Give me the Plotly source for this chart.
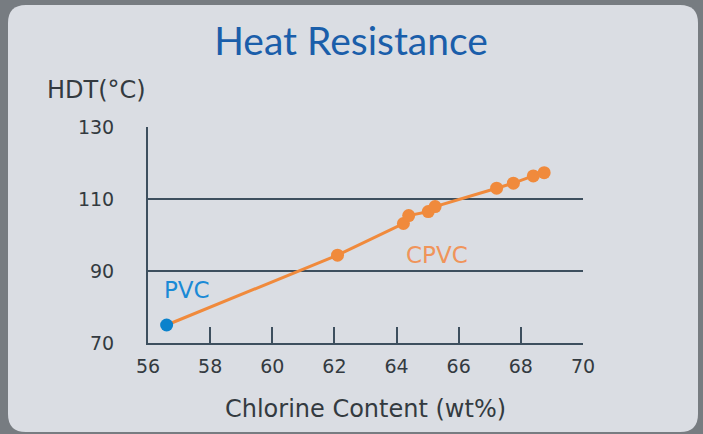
import plotly.graph_objects as go

# ---- data ----
pvc_x = [56.6]
pvc_y = [75.0]
cpvc_x = [62.1, 64.22, 64.39, 65.02, 65.24, 67.22, 67.76, 68.4, 68.75]
cpvc_y = [94.4, 103.2, 105.4, 106.5, 107.9, 113.0, 114.4, 116.4, 117.3]
x_ticks = [56, 58, 60, 62, 64, 66, 68, 70]
y_ticks = [70, 90, 110, 130]
grid_vals = [90, 110]

W, H = 703, 434
L, R, T, B = 148, 120, 127, 91

def px2paper(px, py):
    return (px - L) / (W - L - R), (H - B - py) / (H - T - B)

# rounded panel path
x0, y0, x1, y1, r = 8, 5, 698, 432, 18
def P(px, py):
    a, b = px2paper(px, py)
    return f"{a:.5f},{b:.5f}"
path = (f"M {P(x0+r,y0)} L {P(x1-r,y0)} Q {P(x1,y0)} {P(x1,y0+r)} "
        f"L {P(x1,y1-r)} Q {P(x1,y1)} {P(x1-r,y1)} L {P(x0+r,y1)} "
        f"Q {P(x0,y1)} {P(x0,y1-r)} L {P(x0,y0+r)} Q {P(x0,y0)} {P(x0+r,y0)} Z")

orange = "#f08a3c"
blue = "#0b82cc"
axis_col = "#3d4f5e"
text_col = "#333a40"

fig = go.Figure()
fig.add_trace(go.Scatter(x=pvc_x + cpvc_x, y=pvc_y + cpvc_y, mode="lines",
                         line=dict(color=orange, width=3), hoverinfo="skip", showlegend=False))
fig.add_trace(go.Scatter(x=cpvc_x, y=cpvc_y, mode="markers",
                         marker=dict(color=orange, size=13), showlegend=False))
fig.add_trace(go.Scatter(x=pvc_x, y=pvc_y, mode="markers",
                         marker=dict(color=blue, size=13), showlegend=False))

fig.add_shape(type="path", path=path, xref="paper", yref="paper",
              fillcolor="#dadde3", line=dict(width=0), layer="below")

fig.add_annotation(x=57.25, y=84.7, text="PVC", showarrow=False,
                   font=dict(family="DejaVu Sans", size=23, color="#1a8ad6"))
fig.add_annotation(x=65.3, y=94.4, text="CPVC", showarrow=False,
                   font=dict(family="DejaVu Sans", size=23, color="#f0945a"))
hx, hy = px2paper(45, 90)
fig.add_annotation(x=hx, y=hy, xref="paper", yref="paper", text="HDT(°C)",
                   showarrow=False, xanchor="left", yanchor="middle",
                   font=dict(family="DejaVu Sans", size=24, color=text_col))

fig.update_layout(
    width=W, height=H,
    margin=dict(l=L, r=R, t=T, b=B),
    paper_bgcolor="#777c81",
    plot_bgcolor="rgba(0,0,0,0)",
    title=dict(text="Heat Resistance", x=351 / W, xanchor="center",
               y=1 - 41 / H, yanchor="middle",
               font=dict(family="Lato", size=39, color="#1a5eaa")),
    xaxis=dict(range=[56, 70], tickvals=x_ticks, showgrid=False, zeroline=False,
               showline=True, linecolor=axis_col, linewidth=2,
               ticks="inside", ticklen=16, tickwidth=2, tickcolor=axis_col,
               tickfont=dict(family="DejaVu Sans", size=19, color=text_col),
               ticklabelstandoff=5,
               title=dict(text="Chlorine Content (wt%)", standoff=24,
                          font=dict(family="DejaVu Sans", size=24, color=text_col))),
    yaxis=dict(range=[70, 130], tickvals=y_ticks, showgrid=False, zeroline=False,
               showline=True, linecolor=axis_col, linewidth=2, ticks="",
               tickfont=dict(family="DejaVu Sans", size=19, color=text_col),
               ticklabelstandoff=28,
               minor=dict(tickvals=grid_vals, showgrid=True, gridcolor=axis_col,
                          gridwidth=2, ticks="")),
)

fig.write_html("out.html", config={"displayModeBar": False},
               post_script="document.body.style.margin='0';document.body.style.overflow='hidden';")
